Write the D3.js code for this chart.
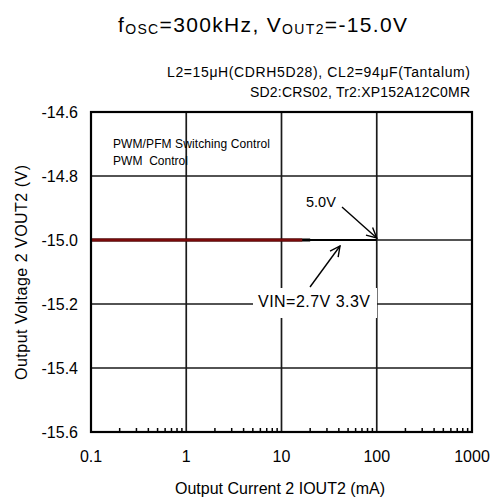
<!DOCTYPE html>
<html><head><meta charset="utf-8">
<script src="https://cdn.jsdelivr.net/npm/d3@7"></script>
<style>body{margin:0;background:#fff}svg{display:block;font-family:"Liberation Sans",Arial,sans-serif}</style>
</head><body><svg id="c" width="492" height="498"></svg>
<script>
const xTicks = [0.1, 1, 10, 100, 1000];
const xTickLabels = ["0.1", "1", "10", "100", "1000"];
const yTicks = [-14.6, -14.8, -15.0, -15.2, -15.4, -15.6];
const yTickLabels = ["-14.6", "-14.8", "-15.0", "-15.2", "-15.4", "-15.6"];
const seriesNames = ["2.7V", "3.3V", "5.0V"];
const seriesColors = ["#7a0a0a", "#000000", "#000000"];
const curr27 = [0.1, 1, 10, 16.5];
const vout27 = [-15.0, -15.0, -15.0, -15.0];
const curr33 = [0.1, 1, 10, 20];
const vout33 = [-15.0, -15.0, -15.0, -15.0];
const curr50 = [0.1, 1, 10, 100];
const vout50 = [-15.0, -15.0, -15.0, -15.0];

const svg = d3.select("#c");
const L = 91, R = 472, T = 112, B = 432;
const x = d3.scaleLog().domain([0.1, 1000]).range([L, R]);
const y = d3.scaleLinear().domain([-15.6, -14.6]).range([B, T]);

function fit(sel, w) {
  const n = sel.node();
  const nat = n.getComputedTextLength();
  const chars = n.textContent.length;
  sel.attr("letter-spacing", (w - nat) / (chars - 1));
  return sel;
}

// gridlines
svg.append("g").selectAll("line").data(yTicks).join("line")
  .attr("x1", L).attr("x2", R).attr("y1", d => y(d)).attr("y2", d => y(d))
  .attr("stroke", "#1a1a1a").attr("stroke-width", 1.7);
svg.append("g").selectAll("line").data(xTicks).join("line")
  .attr("y1", T).attr("y2", B).attr("x1", d => x(d)).attr("x2", d => x(d))
  .attr("stroke", "#1a1a1a").attr("stroke-width", 1.7);

// minor ticks on bottom
const minor = [];
[0.1, 1, 10, 100].forEach(dec => { for (let k = 2; k <= 9; k++) minor.push(dec * k); });
svg.append("g").selectAll("line").data(minor).join("line")
  .attr("x1", d => x(d)).attr("x2", d => x(d)).attr("y1", B).attr("y2", B - 4)
  .attr("stroke", "#000").attr("stroke-width", 1.5);

// series
const line = d3.line().x(d => x(d[0])).y(d => y(d[1]));
const series = [
  [curr50, vout50, 2, seriesColors[2]],
  [curr33, vout33, 3, seriesColors[1]],
  [curr27, vout27, 3, seriesColors[0]]
];
series.forEach(s => {
  svg.append("path").datum(s[0].map((c, j) => [c, s[1][j]]))
    .attr("d", line).attr("fill", "none").attr("stroke", s[3]).attr("stroke-width", s[2]);
});

// frame
svg.append("rect").attr("x", L).attr("y", T).attr("width", R - L).attr("height", B - T)
  .attr("fill", "none").attr("stroke", "#000").attr("stroke-width", 2.2);

// tick labels
svg.append("g").selectAll("text").data(yTicks).join("text")
  .attr("x", 78).attr("y", d => y(d) + 5.7).attr("text-anchor", "end")
  .attr("font-size", 16).text((d, i) => yTickLabels[i]);
svg.append("g").selectAll("text").data(xTicks).join("text")
  .attr("x", d => x(d)).attr("y", 462).attr("text-anchor", "middle")
  .attr("font-size", 16).text((d, i) => xTickLabels[i]);

// axis titles
fit(svg.append("text").attr("x", 175).attr("y", 494).attr("font-size", 16)
  .text("Output Current 2 IOUT2 (mA)"), 210);
fit(svg.append("text").attr("transform", `translate(27,380) rotate(-90)`)
  .attr("font-size", 16).text("Output Voltage 2 VOUT2 (V)"), 215);

// title
const title = svg.append("text").attr("x", 118).attr("y", 32).attr("font-size", 21);
title.append("tspan").text("f");
title.append("tspan").attr("font-size", 14).attr("dy", 2).text("OSC");
title.append("tspan").attr("dy", -2).text("=300kHz, V");
title.append("tspan").attr("font-size", 14).attr("dy", 2).text("OUT2");
title.append("tspan").attr("dy", -2).text("=-15.0V");
fit(title, 289);

fit(svg.append("text").attr("x", 167).attr("y", 77).attr("font-size", 14)
  .text("L2=15\u03bcH(CDRH5D28), CL2=94\u03bcF(Tantalum)"), 303);
fit(svg.append("text").attr("x", 250).attr("y", 97).attr("font-size", 14)
  .text("SD2:CRS02, Tr2:XP152A12C0MR"), 220);

fit(svg.append("text").attr("x", 113).attr("y", 148).attr("font-size", 12).text("PWM/PFM Switching Control"), 157);
fit(svg.append("text").attr("x", 113).attr("y", 165).attr("font-size", 12).style("white-space", "pre").text("PWM  Control"), 75);

// arrow marker
const defs = svg.append("defs");
defs.append("marker").attr("id", "ah").attr("viewBox", "0 0 12 12").attr("refX", 11).attr("refY", 6)
  .attr("markerWidth", 12).attr("markerHeight", 12).attr("markerUnits", "userSpaceOnUse").attr("orient", "auto")
  .append("path").attr("d", "M1,1 L11,6 L1,11").attr("fill", "none").attr("stroke", "#000").attr("stroke-width", 1.4);

// 5.0V annotation
svg.append("text").attr("x", 306).attr("y", 207).attr("font-size", 14.5).text(seriesNames[2]);
svg.append("line").attr("x1", 342).attr("y1", 207).attr("x2", x(100)).attr("y2", y(-15.0) - 2)
  .attr("stroke", "#000").attr("stroke-width", 1.4).attr("marker-end", "url(#ah)");

// VIN annotation
svg.append("rect").attr("x", 253).attr("y", 288).attr("width", 124).attr("height", 30).attr("fill", "#fff");
fit(svg.append("text").attr("x", 258).attr("y", 307).attr("font-size", 16)
  .text("VIN=" + seriesNames[0] + " " + seriesNames[1]), 112);
svg.append("line").attr("x1", 310).attr("y1", 287).attr("x2", 340).attr("y2", 246)
  .attr("stroke", "#000").attr("stroke-width", 1.4).attr("marker-end", "url(#ah)");
</script></body></html>
